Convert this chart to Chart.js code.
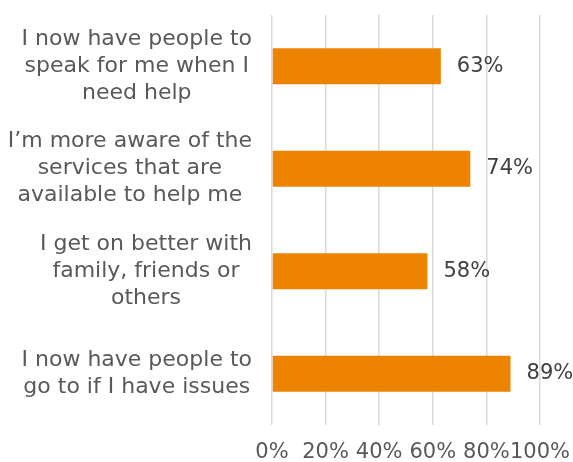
<!DOCTYPE html>
<html>
<head>
<meta charset="utf-8">
<script src="https://cdn.jsdelivr.net/npm/chart.js@4/dist/chart.umd.min.js"></script>
<style>
  body { margin: 0; background: #fff; }
</style>
</head>
<body>
<canvas id="myChart" width="573" height="462"></canvas>
<script>
// data
var categories = [
  ["I now have people to", "speak for me when I", "need help"],
  ["I\u2019m more aware of the", "services that are", "available to help me"],
  ["I get on better with", "family, friends or", "others"],
  ["I now have people to", "go to if I have issues"]
];
var percentValues = [63, 74, 58, 89];
var tickValues = [0, 20, 40, 60, 80, 100];

var FONT = "'DejaVu Sans', Verdana, sans-serif";

// category labels: block right aligned, each line centered inside it
var categoryLabels = {
  id: 'categoryLabels',
  afterDraw: function(chart) {
    var ctx = chart.ctx;
    var yScale = chart.scales.y;
    var right = chart.chartArea.left - 20;
    ctx.save();
    ctx.font = '22px ' + FONT;
    ctx.fillStyle = '#595959';
    ctx.textAlign = 'center';
    ctx.textBaseline = 'middle';
    for (var i = 0; i < categories.length; i++) {
      var lines = categories[i];
      var widest = 0;
      for (var j = 0; j < lines.length; j++) {
        widest = Math.max(widest, ctx.measureText(lines[j]).width);
      }
      var xc = right - widest / 2;
      var yc = yScale.getPixelForValue(i);
      for (var j = 0; j < lines.length; j++) {
        ctx.fillText(lines[j], xc, yc + (j - (lines.length - 1) / 2) * 27);
      }
    }
    ctx.restore();
  }
};

// value labels right of each bar
var valueLabels = {
  id: 'valueLabels',
  afterDatasetsDraw: function(chart) {
    var ctx = chart.ctx;
    var meta = chart.getDatasetMeta(0);
    ctx.save();
    ctx.font = '21px ' + FONT;
    ctx.fillStyle = '#404040';
    ctx.textAlign = 'left';
    ctx.textBaseline = 'middle';
    meta.data.forEach(function(bar, i) {
      ctx.fillText(percentValues[i] + '%', bar.x + 16, bar.y);
    });
    ctx.restore();
  }
};

var ctx = document.getElementById("myChart").getContext("2d");
var myChart = new Chart(ctx, {
  type: 'bar',
  data: {
    labels: categories.map(function(c) { return c.join(' '); }),
    datasets: [
      { data: percentValues, backgroundColor: '#EE8300', barPercentage: 0.7, categoryPercentage: 0.5 }
    ]
  },
  options: {
    indexAxis: 'y',
    responsive: false,
    animation: false,
    devicePixelRatio: 1,
    layout: { padding: { left: 0, top: 15, right: 33, bottom: 0 } },
    plugins: {
      legend: { display: false },
      tooltip: { enabled: false }
    },
    scales: {
      x: {
        min: 0,
        max: 100,
        afterBuildTicks: function(scale) {
          scale.ticks = tickValues.map(function(v) { return { value: v }; });
        },
        afterFit: function(scale) {
          scale.height = 37;
          scale.paddingLeft = 0;
          scale.paddingRight = 0;
        },
        grid: { color: '#d9d9d9', lineWidth: 1.5, drawTicks: false },
        border: { display: false },
        ticks: {
          padding: 15,
          color: '#595959',
          maxRotation: 0,
          minRotation: 0,
          autoSkip: false,
          font: { family: FONT, size: 21 },
          callback: function(v) { return v + '%'; }
        }
      },
      y: {
        afterFit: function(scale) { scale.width = 272; },
        grid: { display: false },
        border: { display: false },
        ticks: { display: false }
      }
    }
  },
  plugins: [categoryLabels, valueLabels]
});
</script>
</body>
</html>
